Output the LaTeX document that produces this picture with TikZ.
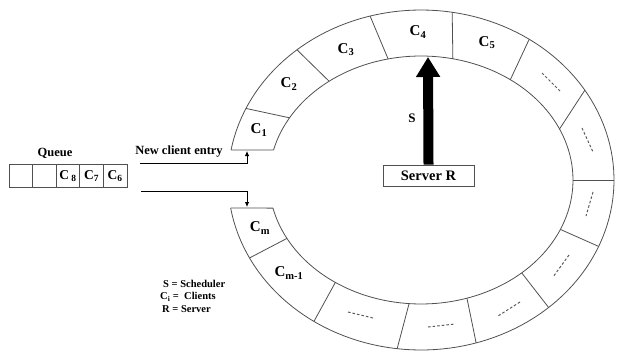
\documentclass[tikz,border=0pt]{standalone}
\usepackage{fontspec}
\setmainfont{Liberation Serif}
\usetikzlibrary{arrows.meta}
\definecolor{rimgray}{HTML}{505050}
\definecolor{dashgray}{HTML}{5A5A5A}
\begin{document}
\begin{tikzpicture}[x=1pt,y=-1pt,
  rim/.style={draw=rimgray,line width=0.8pt},
  celllabel/.style={font=\bfseries\fontsize{15}{15}\selectfont,inner sep=0pt},
  qcell/.style={draw=rimgray,line width=0.8pt,minimum width=23.6pt,minimum height=23pt,inner sep=0pt,outer sep=0pt,
    font=\bfseries\fontsize{13.5}{13.5}\selectfont},
  caption/.style={font=\bfseries\fontsize{12.5}{12.5}\selectfont,inner sep=0pt},
  legendline/.style={anchor=west,inner sep=0pt,font=\bfseries\fontsize{10.5}{10.5}\selectfont},
  feed/.style={draw=black,line width=0.8pt,-{Latex[length=5pt,width=4.5pt]}},
  gap/.style={draw=dashgray,line width=1pt,dash pattern=on 2.6pt off 2pt},
]
\useasboundingbox (0,0) rectangle (617,351);
\def\cx{421}\def\cy{180}
\def\rxo{193}\def\ryo{170}
\def\rxi{152}\def\ryi{124}

% ring of client slots, open on the left
\draw[rim] plot[domain=-170.5:169.8,samples=150] ({\cx+\rxo*cos(\x)},{\cy-\ryo*sin(\x)});
\draw[rim] plot[domain=-166.9:166,samples=150] ({\cx+\rxi*cos(\x)},{\cy-\ryi*sin(\x)});
\coordinate (topO) at ({\cx+\rxo*cos(169.8)},{\cy-\ryo*sin(169.8)});
\coordinate (topI) at ({\cx+\rxi*cos(166)},{\cy-\ryi*sin(166)});
\coordinate (botO) at ({\cx+\rxo*cos(-170.5)},{\cy-\ryo*sin(-170.5)});
\coordinate (botI) at ({\cx+\rxi*cos(-166.9)},{\cy-\ryi*sin(-166.9)});
\draw[rim] (topO) -- (topI);
\draw[rim] (botO) -- (botI);

% slot separators (outer angle / inner angle)
\foreach \o/\i in {155.1/149.9,130/127.2,105.3/102.5,80.7/77.9,55.9/54,31.9/24.3,0/0,
                   -23/-23.5,-48.6/-48.5,-73.4/-72.4,-97.1/-94.5,-123.7/-124.3,-152.7/-151.9}
  \draw[rim] ({\cx+\rxo*cos(\o)},{\cy-\ryo*sin(\o)}) -- ({\cx+\rxi*cos(\i)},{\cy-\ryi*sin(\i)});

% client labels
\node[celllabel] (c1) at (259,130) {C\textsubscript{1}};
\node[celllabel] (c2) at (289,84) {C\textsubscript{2}};
\node[celllabel] (c3) at (346,50) {C\textsubscript{3}};
\node[celllabel] (c4) at (418,32) {C\textsubscript{4}};
\node[celllabel] (c5) at (487,43) {C\textsubscript{5}};
\node[celllabel] (cm) at (260,228) {C\textsubscript{m}};
\node[celllabel] (cm1) at (289,273) {C\textsubscript{m-1}};

% unnamed slots
\draw[gap] (542,73) -- (560,91);
\draw[gap] (582,128) -- (593,152);
\draw[gap] (593,192) -- (586,216);
\draw[gap] (569,255) -- (553,277);
\draw[gap] (520,302) -- (498,316);
\draw[gap] (428,327) -- (455,324);
\draw[gap] (348,312) -- (373,318);

% waiting queue
\node[caption] (queue) at (55,153) {Queue};
\node[qcell] (q1) at (20.8,176) {};
\node[qcell] (q2) at (44.4,176) {};
\node[qcell] (q3) at (68,176) {C\,\textsubscript{8}};
\node[qcell] (q4) at (91.6,176) {C\textsubscript{7}};
\node[qcell] (q5) at (115.2,176) {C\textsubscript{6}};

% entry and exit of the ring
\node[caption] (entry) at (179,152) {New client entry};
\coordinate (in1) at (140,163);
\coordinate (c1foot) at (247,151);
\draw[feed] (in1) -| (c1foot);
\coordinate (in2) at (141,191);
\coordinate (cmhead) at (247,207);
\draw[feed] (in2) -| (cmhead);

% server and scheduler
\node[draw=rimgray,line width=0.8pt,fill=white,minimum width=91pt,minimum height=21pt,inner sep=0pt,
      font=\bfseries\fontsize{14.5}{14.5}\selectfont] (server) at (428.5,175.5) {Server R};
\coordinate (sched) at (428,57);
\draw[line width=10pt,-{Triangle[width=23pt,length=20pt]}] (server.north) -- (sched);
\node[font=\bfseries\fontsize{13}{13}\selectfont,inner sep=0pt] (slabel) at (412,118) {S};

% legend
\node[legendline] (legS) at (163,283.5) {S = Scheduler};
\node[legendline] (legC) at (160,297) {C\textsubscript{i} = \ Clients};
\node[legendline] (legR) at (162,309.5) {R = Server};
\end{tikzpicture}
\end{document}
